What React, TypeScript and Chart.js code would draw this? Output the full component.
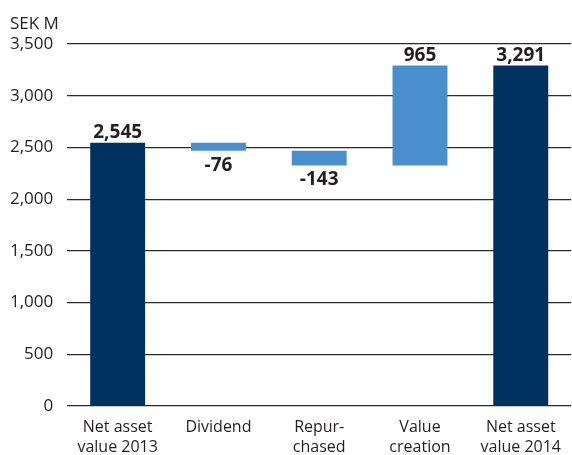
import React, { useEffect, useRef } from "react";
import { Chart, registerables } from "chart.js";

Chart.register(...registerables);

const categories: string[][] = [
  ["Net asset", "value 2013"],
  ["Dividend"],
  ["Repur-", "chased"],
  ["Value", "creation"],
  ["Net asset", "value 2014"],
];
const changes: number[] = [2545, -76, -143, 965, 3291];
const isTotal: boolean[] = [true, false, false, false, true];
const yTicks: number[] = [0, 500, 1000, 1500, 2000, 2500, 3000, 3500];
const unitLabel = "SEK M";

const DARK = "#00325F";
const LIGHT = "#4A8FCD";
const FONT = "'Open Sans', sans-serif";

function buildRanges(): [number, number][] {
  const out: [number, number][] = [];
  let running = 0;
  changes.forEach((v, i) => {
    if (isTotal[i]) {
      out.push([0, v]);
      running = v;
    } else {
      const next = running + v;
      out.push([Math.min(running, next), Math.max(running, next)]);
      running = next;
    }
  });
  return out;
}

const labelPlugin = {
  id: "wfLabels",
  afterDatasetsDraw(chart: any) {
    const ctx = chart.ctx;
    const meta = chart.getDatasetMeta(0);
    ctx.save();
    ctx.font = `bold 19px ${FONT}`;
    ctx.fillStyle = "#231f20";
    ctx.textAlign = "center";
    ctx.textBaseline = "alphabetic";
    meta.data.forEach((bar: any, i: number) => {
      const v = changes[i];
      const txt = v.toLocaleString("en-US");
      const props = bar.getProps(["x", "y", "base"], true);
      const top = Math.min(props.y, props.base);
      const bottom = Math.max(props.y, props.base);
      if (v < 0) {
        ctx.fillText(txt, props.x, bottom + 20);
      } else {
        ctx.fillText(txt, props.x, top - 4.5);
      }
    });
    ctx.restore();
  },
};

const unitPlugin = {
  id: "unitLabel",
  afterDraw(chart: any) {
    const ctx = chart.ctx;
    ctx.save();
    ctx.font = `17px ${FONT}`;
    ctx.fillStyle = "#231f20";
    ctx.textAlign = "left";
    ctx.textBaseline = "alphabetic";
    ctx.fillText(unitLabel, 10, 29);
    ctx.restore();
  },
};

export default function App() {
  const ref = useRef<HTMLCanvasElement | null>(null);
  useEffect(() => {
    if (!ref.current) return;
    const ranges = buildRanges();
    const chart = new Chart(ref.current, {
      type: "bar",
      data: {
        labels: categories,
        datasets: [
          {
            data: ranges as any,
            backgroundColor: isTotal.map((t) => (t ? DARK : LIGHT)),
            borderWidth: 0,
            barPercentage: 0.545,
            categoryPercentage: 1,
          },
        ],
      },
      options: {
        animation: false,
        responsive: true,
        maintainAspectRatio: false,
        layout: { padding: { top: 44, right: 0, left: 9, bottom: -13 } },
        plugins: {
          legend: { display: false },
          tooltip: { enabled: false },
        },
        scales: {
          x: {
            grid: { display: false, drawTicks: false },
            border: { display: false },
            ticks: {
              color: "#231f20",
              font: { family: FONT, size: 16, lineHeight: 1.25 },
              padding: 11,
              maxRotation: 0,
              autoSkip: false,
            },
          },
          y: {
            min: 0,
            max: 3500,
            afterBuildTicks: (axis: any) => {
              axis.ticks = yTicks.map((v) => ({ value: v }));
            },
            grid: {
              color: "#2a2a2a",
              lineWidth: 1.2,
              drawTicks: true,
              tickLength: 13,
              tickColor: "rgba(0,0,0,0)",
            },
            border: { display: false },
            ticks: {
              color: "#231f20",
              font: { family: FONT, size: 17 },
              padding: 1,
              callback: (v: any) => Number(v).toLocaleString("en-US"),
            },
          },
        },
      },
      plugins: [labelPlugin, unitPlugin],
    });
    return () => chart.destroy();
  }, []);
  return (
    <div style={{ position: "fixed", left: 0, top: 0, width: 572, height: 455, background: "#fff" }}>
      <canvas ref={ref} />
    </div>
  );
}
